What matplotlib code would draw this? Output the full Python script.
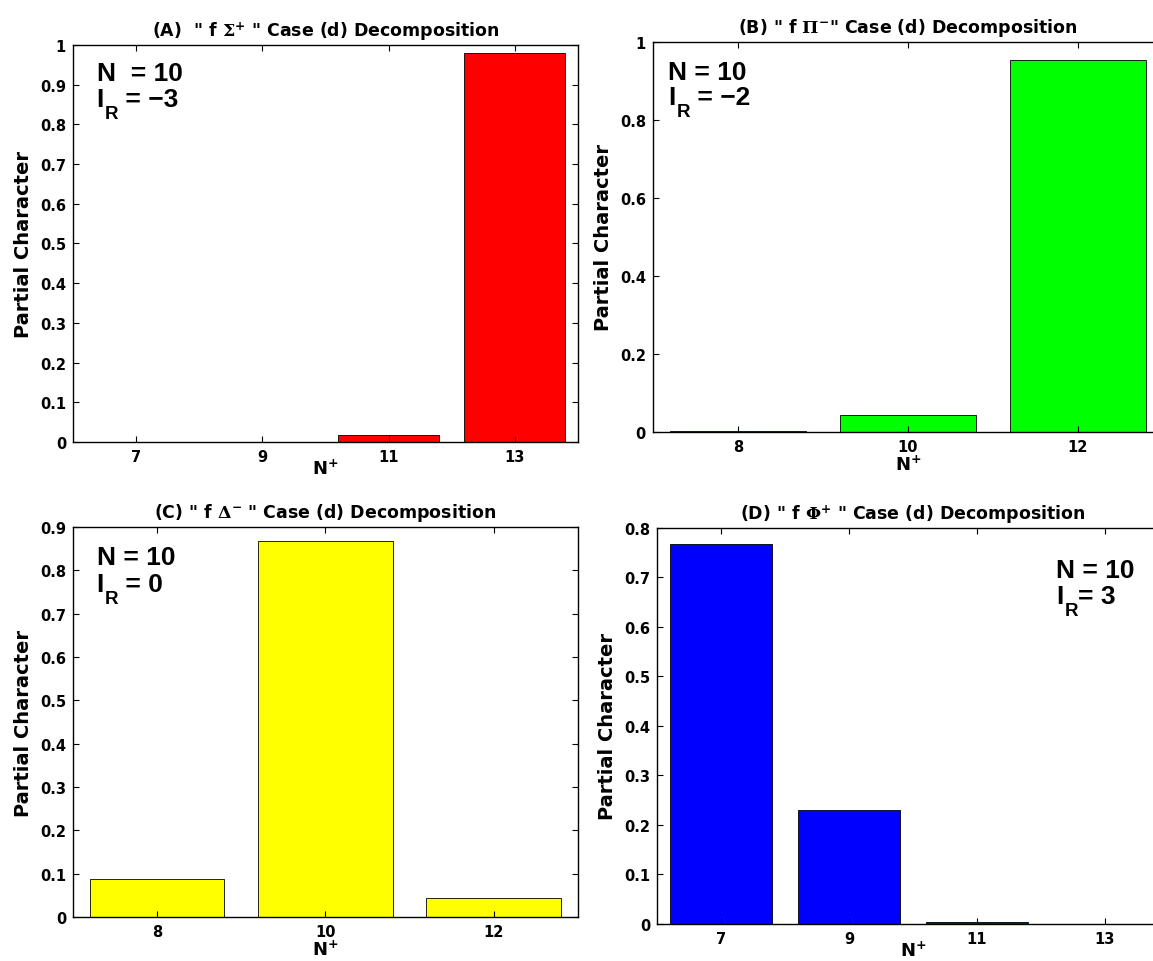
import matplotlib
matplotlib.use("Agg")
import matplotlib.pyplot as plt
from matplotlib.ticker import FormatStrFormatter

plt.rcParams['font.family'] = ['DejaVu Sans']
plt.rcParams['font.weight'] = 'bold'
plt.rcParams['mathtext.fontset'] = 'custom'
plt.rcParams['mathtext.rm'] = 'DejaVu Serif'
plt.rcParams['mathtext.it'] = 'DejaVu Serif'
plt.rcParams['mathtext.bf'] = 'DejaVu Sans:bold'

# 各子图数据
a_n = [7, 9, 11, 13]
a_val = [0.0005, 0.001, 0.017, 0.981]
b_n = [8, 10, 12]
b_val = [0.002, 0.043, 0.955]
c_n = [8, 10, 12]
c_val = [0.087, 0.868, 0.045]
d_n = [7, 9, 11, 13]
d_val = [0.767, 0.231, 0.003, 0.0003]

titles = [
    r'(A)  " f $\Sigma^{\mathbf{+}}$ " Case (d) Decomposition',
    r'(B) " f $\Pi^{\mathbf{-}}$" Case (d) Decomposition',
    r'(C) " f $\Delta^{\mathbf{-}}$ " Case (d) Decomposition',
    r'(D) " f $\Phi^{\mathbf{+}}$ " Case (d) Decomposition',
]
ir_rest = [' = \u22123', ' = \u22122', ' = 0', '= 3']
n_labels = ['N  = 10', 'N = 10', 'N = 10', 'N = 10']

fig = plt.figure(figsize=(11.53, 9.62), dpi=100)
rects = [
    [0.0633, 0.5395, 0.438, 0.4127],
    [0.5663, 0.5499, 0.4423, 0.4054],
    [0.0633, 0.0457, 0.438, 0.4054],
    [0.5698, 0.0385, 0.444, 0.4116],
]
datas = [(a_n, a_val, '#ff0000', (6, 14), 1.0, 0.1),
         (b_n, b_val, '#00ff00', (7, 13), 1.0, 0.2),
         (c_n, c_val, '#ffff00', (7, 13), 0.9, 0.1),
         (d_n, d_val, '#0000ff', (6, 14), 0.8, 0.1)]
# 注释位置 (轴坐标)
text_pos = [(0.047, 0.912, 0.846), (0.03, 0.905, 0.84),
            (0.047, 0.905, 0.835), (0.78, 0.875, 0.81)]
xlabel_pad = [-4, 0, 0, -4]
ann_font = ['Liberation Sans', 'DejaVu Sans']

fig.canvas.draw()
renderer = fig.canvas.get_renderer()
for i in range(4):
    n, val, color, xlim, ytop, ystep = datas[i]
    ax = fig.add_axes(rects[i])
    ax.bar(n, val, width=1.6, color=color, edgecolor='black', linewidth=0.6)
    ax.set_xlim(*xlim)
    ax.set_ylim(0, ytop)
    ax.set_xticks(n)
    nt = int(round(ytop / ystep))
    ax.set_yticks([k * ystep for k in range(nt + 1)])
    ax.yaxis.set_major_formatter(FormatStrFormatter('%g'))
    ax.tick_params(direction='in', top=True, right=True, length=4, width=0.8,
                   labelsize=10.5, pad=5)
    for lab in ax.get_xticklabels() + ax.get_yticklabels():
        lab.set_fontweight('bold')
    for s in ax.spines.values():
        s.set_linewidth(1.0)
    ax.set_title(titles[i], fontsize=12.5, fontweight='bold', pad=7)
    ax.set_ylabel('Partial Character', fontsize=14, fontweight='bold', labelpad=5)
    ax.set_xlabel(r'N$^{\mathbf{+}}$', fontsize=13, fontweight='bold', labelpad=xlabel_pad[i])
    tx, ty1, ty2 = text_pos[i]
    ax.text(tx, ty1, n_labels[i], transform=ax.transAxes, fontsize=19,
            fontweight='bold', va='baseline', family=ann_font)
    # I_R: 主字母 + 下标 R + 其余部分
    t1 = ax.text(tx, ty2, 'I', transform=ax.transAxes, fontsize=19,
                 fontweight='bold', va='baseline', family=ann_font)
    bb = t1.get_window_extent(renderer).transformed(ax.transAxes.inverted())
    t2 = ax.text(bb.x1 + 0.002, ty2 - 0.03, 'R', transform=ax.transAxes, fontsize=13.5,
                 fontweight='bold', va='baseline', family=ann_font)
    bb2 = t2.get_window_extent(renderer).transformed(ax.transAxes.inverted())
    ax.text(bb2.x1, ty2, ir_rest[i], transform=ax.transAxes, fontsize=19,
            fontweight='bold', va='baseline', family=ann_font)

fig.savefig('out.png', dpi=100)
